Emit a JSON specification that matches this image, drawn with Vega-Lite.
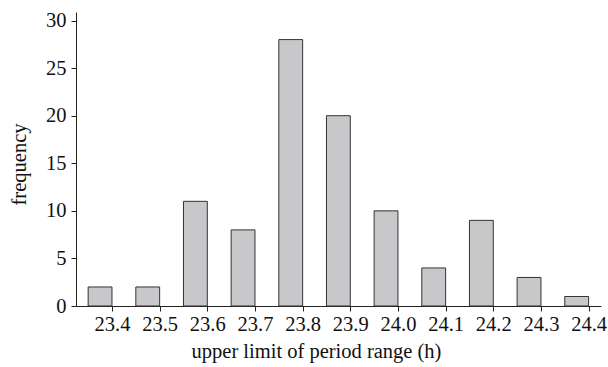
{
  "$schema": "https://vega.github.io/schema/vega-lite/v6.json",
  "autosize": "none",
  "width": 525,
  "height": 294,
  "padding": {"left": 76, "top": 12, "right": 7, "bottom": 61},
  "background": "white",
  "config": {
    "view": {"stroke": null},
    "font": "Liberation Serif",
    "axis": {
      "labelFont": "Liberation Serif",
      "titleFont": "Liberation Serif",
      "labelFontSize": 20.5,
      "titleFontSize": 20.5,
      "titleFontWeight": "normal",
      "labelColor": "#111",
      "titleColor": "#111",
      "domainColor": "#222",
      "tickColor": "#222",
      "tickSize": 5,
      "grid": false
    }
  },
  "data": {
    "values": [
      {"bin_start": 23.35, "upper": 23.4, "count": 2},
      {"bin_start": 23.45, "upper": 23.5, "count": 2},
      {"bin_start": 23.55, "upper": 23.6, "count": 11},
      {"bin_start": 23.65, "upper": 23.7, "count": 8},
      {"bin_start": 23.75, "upper": 23.8, "count": 28},
      {"bin_start": 23.85, "upper": 23.9, "count": 20},
      {"bin_start": 23.95, "upper": 24.0, "count": 10},
      {"bin_start": 24.05, "upper": 24.1, "count": 4},
      {"bin_start": 24.15, "upper": 24.2, "count": 9},
      {"bin_start": 24.25, "upper": 24.3, "count": 3},
      {"bin_start": 24.35, "upper": 24.4, "count": 1}
    ]
  },
  "mark": {"type": "bar", "fill": "#c8c8ca", "stroke": "#333", "strokeWidth": 1},
  "encoding": {
    "x": {
      "field": "bin_start",
      "type": "quantitative",
      "scale": {"domain": [23.3245, 24.426], "nice": false, "zero": false},
      "axis": {
        "title": "upper limit of period range (h)",
        "values": [23.4, 23.5, 23.6, 23.7, 23.8, 23.9, 24.0, 24.1, 24.2, 24.3, 24.4],
        "format": ".1f",
        "labelPadding": 3,
        "titlePadding": 7,
        "titleX": 240,
        "labelFlush": false
      }
    },
    "x2": {"field": "upper"},
    "y": {
      "field": "count",
      "type": "quantitative",
      "scale": {"domain": [0, 30.9], "nice": false},
      "axis": {
        "title": "frequency",
        "values": [0, 5, 10, 15, 20, 25, 30],
        "labelPadding": 5,
        "titlePadding": 16,
        "titleY": 152,
        "labelFlush": false
      }
    },
    "y2": {"datum": 0}
  }
}
